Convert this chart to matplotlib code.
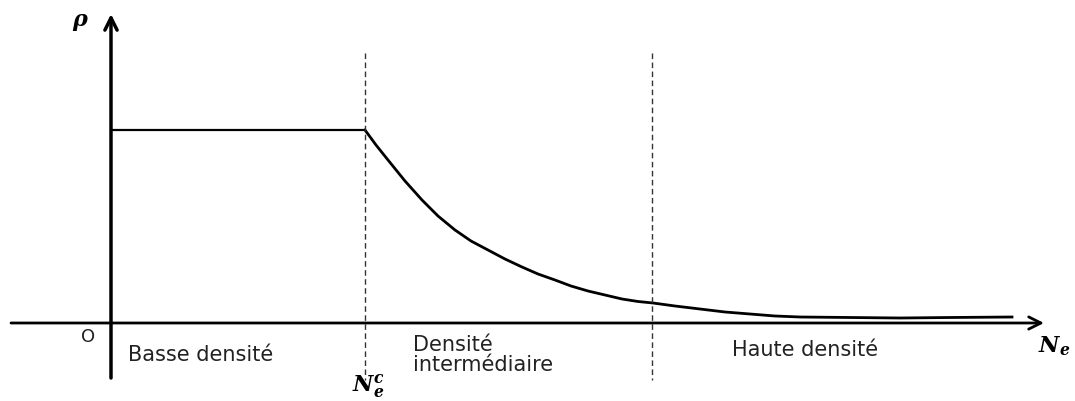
import numpy as np
from matplotlib import pyplot as plt

# Values (pixel-like units, y grows downwards)
x_axis_y = 323
y_axis_x = 111
plateau_y = 130
ne_c = 365
ne_high = 652

curve_x = [365, 376, 388, 405, 422, 438, 455, 471, 488, 505, 522, 538, 555, 571, 588,
           605, 622, 638, 653, 675, 700, 725, 750, 775, 800, 850, 900, 950, 1012]
curve_y = [130, 145, 160, 181, 200, 216, 230, 241, 250, 259, 267, 274, 280, 286, 291,
           295, 299, 301.5, 303, 306, 309, 312, 314, 316, 317, 317.5, 318, 317.5, 317]

region_labels = ["Basse densité", "Densité\nintermédiaire", "Haute densité"]
region_x = [128, 413, 732]
region_y = [355, 355, 350]

plt.rcParams['font.family'] = ['DejaVu Sans']
plt.rcParams['mathtext.fontset'] = 'custom'
plt.rcParams['mathtext.rm'] = 'DejaVu Serif'
plt.rcParams['mathtext.it'] = 'DejaVu Serif:italic'
plt.rcParams['mathtext.bf'] = 'DejaVu Serif:italic:bold'

fig = plt.figure(figsize=(10.75, 4.01), dpi=100)
ax = fig.add_axes([0, 0, 1, 1])
ax.set_xlim(0, 1075)
ax.set_ylim(401, 0)
ax.axis('off')

# axes with arrows
ax.annotate('', xy=(1044, x_axis_y), xytext=(11, x_axis_y),
            arrowprops=dict(arrowstyle='->', lw=2, color='black',
                            mutation_scale=22, shrinkA=0, shrinkB=0))
ax.annotate('', xy=(y_axis_x, 14), xytext=(y_axis_x, 378),
            arrowprops=dict(arrowstyle='->', lw=2.5, color='black',
                            mutation_scale=22, shrinkA=0, shrinkB=0))

# density curve
ax.plot([y_axis_x, ne_c], [plateau_y, plateau_y], color='black', lw=1.6)
ax.plot(curve_x, curve_y, color='black', lw=2, solid_joinstyle='round')

# dashed region separators
for xv in [ne_c, ne_high]:
    ax.plot([xv, xv], [53, 380], color='#333333', lw=1, ls=(0, (4, 2.5)))

# labels
ax.text(80, 20, 'ρ', fontsize=16, ha='center', va='center',
        family='DejaVu Serif', fontweight='bold', style='italic')
ax.text(88, 337, 'O', fontsize=13, ha='center', va='center', color='#222222')
for lab, xv, yv in zip(region_labels, region_x, region_y):
    ax.text(xv, yv, lab, fontsize=15, ha='left', va='center',
            color='#222222', linespacing=0.95)
ax.text(1054, 346, r'$\mathbf{N_e}$', fontsize=16, ha='center', va='center')
ax.text(368, 386, r'$\mathbf{N_e^c}$', fontsize=16, ha='center', va='center')

fig.savefig('out.png', dpi=100)
